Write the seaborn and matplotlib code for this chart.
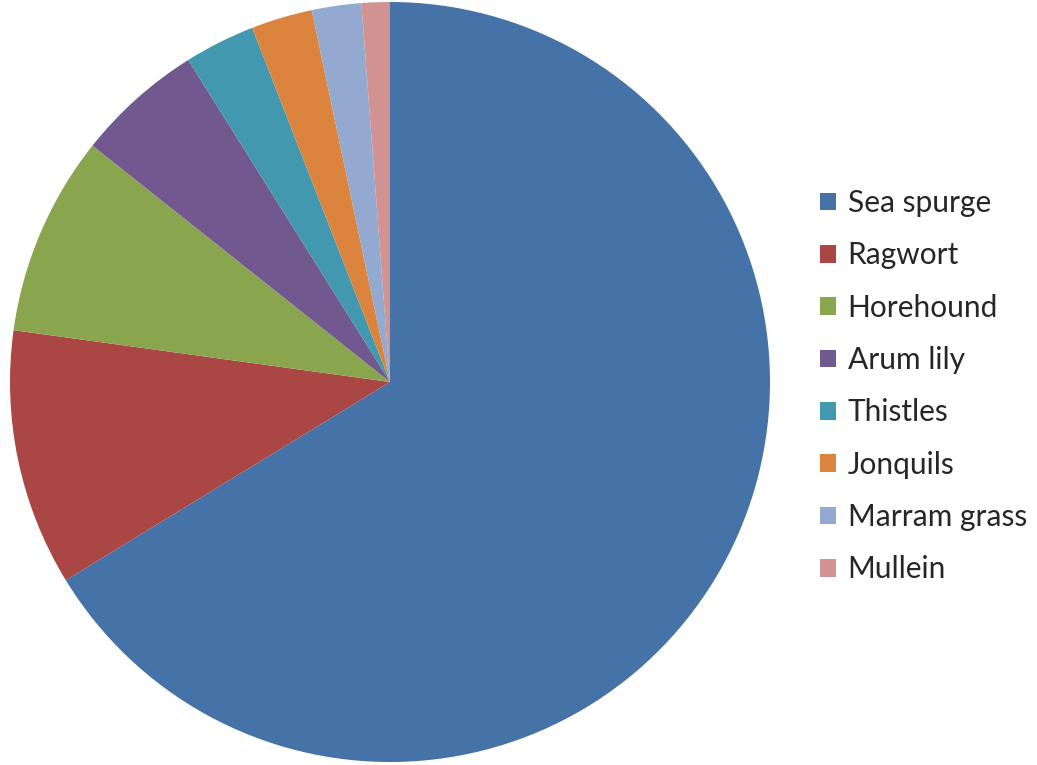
import matplotlib
matplotlib.use("Agg")
import matplotlib.pyplot as plt
from matplotlib.patches import Patch
import seaborn as sns

# invasive weed species, share of total
species = ["Sea spurge", "Ragwort", "Horehound", "Arum lily",
           "Thistles", "Jonquils", "Marram grass", "Mullein"]
share = [66.2, 10.9, 8.5, 5.4, 3.0, 2.6, 2.1, 1.2]
colours = ["#4572A7", "#AA4643", "#89A54E", "#71588F",
           "#4198AF", "#DB843D", "#93A9CF", "#D19392"]

sns.set_theme(style="white")
plt.rcParams['font.family'] = ['Lato', 'DejaVu Sans']
pal = sns.color_palette(colours)

fig = plt.figure(figsize=(10.37, 7.65), dpi=100)
ax = fig.add_axes([10/1037, 3/765, 760/1037, 760/765])
ax.pie(share, colors=pal, startangle=90, counterclock=False, radius=1.0,
       wedgeprops=dict(linewidth=0))
ax.set_xlim(-1.0, 1.0)
ax.set_ylim(-1.0, 1.0)
ax.set_aspect("equal")
ax.axis("off")

handles = [Patch(facecolor=c, edgecolor="none", label=s) for s, c in zip(species, pal)]
fig.legend(handles=handles, loc="upper left", bbox_to_anchor=(808/1037, 1 - 177/765),
           frameon=False, fontsize=21.5, handlelength=0.53, handleheight=0.53,
           handletextpad=0.40, labelspacing=0.815, borderaxespad=0)

fig.savefig("out.png", dpi=100, facecolor="white")
